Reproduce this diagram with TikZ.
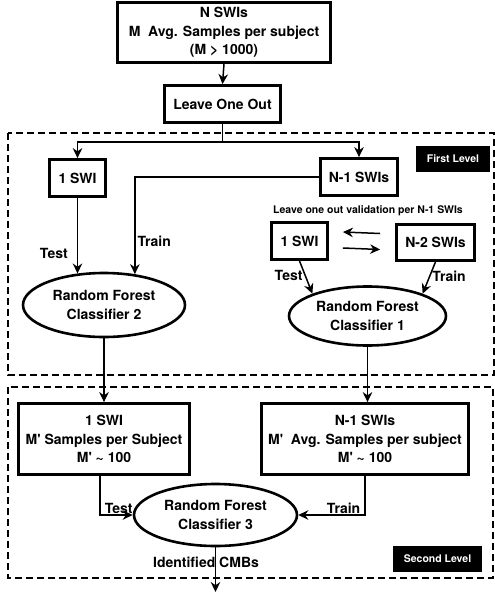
\documentclass[tikz,border=0pt]{standalone}
\usepackage{fontspec}
\setmainfont{TeX Gyre Heros}
\usetikzlibrary{positioning, shapes.geometric, arrows.meta}

\begin{document}
\begin{tikzpicture}[x=1pt, y=-1pt, >={Stealth[length=10pt,width=9.5pt]},
  every node/.style={align=center, inner sep=0pt, font=\fontsize{14}{18.5}\selectfont\bfseries},
  box/.style={draw, line width=2.8pt},
  classifier/.style={draw, ellipse, line width=2.6pt},
  leveltag/.style={fill=black, text=white, minimum height=26pt, font=\fontsize{10.5}{12}\selectfont\bfseries},
  flow/.style={->, line width=1.5pt},
  levelframe/.style={line width=1.9pt, dash pattern=on 7pt off 4pt}]
  \useasboundingbox (0,0) rectangle (495,592);
  % Level frames
  \draw[levelframe] (8,133) rectangle (494,375);
  \draw[levelframe] (8,387) rectangle (493,578);
  \node[leveltag, minimum width=74pt] (firsttag) at (453,159) {First Level};
  \node[leveltag, minimum width=89pt] (secondtag) at (437.5,558.5) {Second Level};
  % Input
  \node[box, minimum width=213pt, minimum height=60pt] (allswi) at (224,32.5) {N SWIs\\M\ \ Avg. Samples per subject\\(M > 1000)};
  \node[box, minimum width=116pt, minimum height=37pt] (loo) at (222.5,104) {Leave One Out};
  \coordinate (split) at (222.5,142);
  % First level
  \node[box, minimum width=56pt, minimum height=37pt] (swione) at (77.5,178) {1 SWI};
  \node[box, minimum width=77pt, minimum height=37pt] (swirest) at (359,177) {N-1 SWIs};
  \node[classifier, minimum width=162pt, minimum height=64pt] (rf2) at (104,305) {Random Forest\\Classifier 2};
  \node[font=\fontsize{10.5}{12}\selectfont\bfseries] (valnote) at (368,211) {Leave one out validation per N-1 SWIs};
  \node[box, minimum width=56pt, minimum height=37pt] (swival) at (299.5,241) {1 SWI};
  \node[box, minimum width=78pt, minimum height=36pt] (swinm2) at (435.5,242.5) {N-2 SWIs};
  \node[classifier, minimum width=157pt, minimum height=59pt] (rf1) at (367.5,316) {Random Forest\\Classifier 1};
  % Second level
  \node[box, minimum width=171pt, minimum height=71pt] (swibig) at (104,439) {1 SWI\\M\textquotesingle\ Samples per Subject\\M\textquotesingle\ \textasciitilde\ 100};
  \node[box, minimum width=207pt, minimum height=71pt] (swirestbig) at (365,439) {N-1 SWIs\\M\textquotesingle\ \ Avg. Samples per subject\\M\textquotesingle\ \textasciitilde\ 100};
  \node[classifier, minimum width=163pt, minimum height=62pt] (rf3) at (215.5,515) {Random Forest\\Classifier 3};
  \coordinate (out) at (215.5,592);
  % Arrows input
  \draw[flow] (allswi.south) -- (loo.north);
  \draw[line width=1.5pt] (loo.south) -- (split);
  \draw[flow] (split) -| (swione.north);
  \draw[flow] (split) -| (swirest.north);
  % Arrows first level
  \draw[flow] (swione.south) -- node[left=9pt, pos=0.74] (testa) {Test} (swione.south |- rf2.130);
  \draw[flow] (swirest.west) -| node[right=2pt, pos=0.83] (traina) {Train} (rf2.45);
  \draw[flow] ([shift={(-15,-9)}]swinm2.west) -- ([shift={(14,-9)}]swival.east);
  \draw[flow] ([shift={(14,7)}]swival.east) -- ([shift={(-15,7)}]swinm2.west);
  \draw[flow] (swival.south) -- node[left=2pt, pos=0.45] (testb) {Test} (rf1.158);
  \draw[flow] (swinm2.south) -- node[right=2pt, pos=0.45] (trainb) {Train} (rf1.22);
  % Arrows between levels
  \draw[flow] (rf2.south) -- (swibig.north);
  \draw[flow] (rf1.south) -- (rf1.south |- swirestbig.north);
  % Arrows second level
  \draw[flow] ([xshift=-4pt]swibig.south) |- node[above right=1pt and 4pt, pos=0.5] (testc) {Test} (rf3.west);
  \draw[flow] (swirestbig.south) |- node[above left=1pt and 4pt, pos=0.5] (trainc) {Train} (rf3.east);
  \draw[flow] (rf3.south) -- (out);
  \node (cmbs) at (206,562) {Identified CMBs};
\end{tikzpicture}
\end{document}
